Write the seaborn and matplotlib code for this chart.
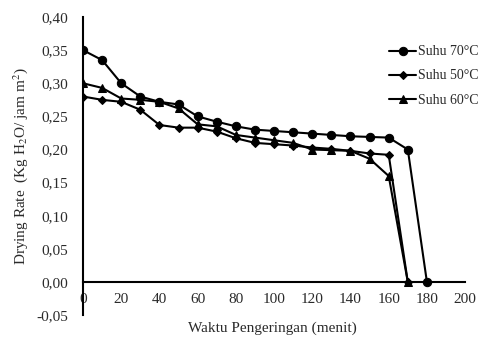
import matplotlib
matplotlib.use('Agg')
import matplotlib.pyplot as plt
import seaborn as sns
import pandas as pd
from matplotlib.ticker import FuncFormatter

# data
waktu = [0, 10, 20, 30, 40, 50, 60, 70, 80, 90, 100, 110, 120, 130, 140, 150, 160, 170, 180]
rate_70 = [0.350, 0.335, 0.300, 0.280, 0.272, 0.268, 0.250, 0.242, 0.235, 0.230, 0.228,
           0.226, 0.224, 0.222, 0.220, 0.219, 0.218, 0.200, 0.000]
waktu_b = waktu[:-1]
rate_50 = [0.280, 0.275, 0.272, 0.260, 0.237, 0.233, 0.233, 0.227, 0.217, 0.210, 0.208,
           0.206, 0.203, 0.201, 0.198, 0.194, 0.192, 0.000]
rate_60 = [0.300, 0.293, 0.277, 0.275, 0.272, 0.262, 0.238, 0.235, 0.222, 0.218, 0.214,
           0.210, 0.200, 0.199, 0.198, 0.186, 0.160, 0.000]
series = ['Suhu 70°C', 'Suhu 50°C', 'Suhu 60°C']

df = pd.concat([
    pd.DataFrame({'Waktu': waktu, 'Rate': rate_70, 'Suhu': series[0]}),
    pd.DataFrame({'Waktu': waktu_b, 'Rate': rate_50, 'Suhu': series[1]}),
    pd.DataFrame({'Waktu': waktu_b, 'Rate': rate_60, 'Suhu': series[2]}),
])

sns.set_style('white')
plt.rcParams['font.family'] = ['Liberation Serif', 'DejaVu Serif']
plt.rcParams['mathtext.fontset'] = 'stix'

fig = plt.figure(figsize=(4.8, 3.41), dpi=100)
ax = fig.add_axes([0.173, 0.076, 0.796, 0.874])

sns.lineplot(
    data=df, x='Waktu', y='Rate', hue='Suhu', style='Suhu',
    hue_order=series, style_order=series,
    palette=['black'] * 3, markers={series[0]: 'o', series[1]: 'D', series[2]: '^'},
    dashes=False, linewidth=1.5, markersize=6, markeredgecolor='black',
    ax=ax, legend=True,
)
for line in ax.lines:
    if line.get_marker() == 'D':
        line.set_markersize(4)

ax.set_xlim(0, 200)
ax.set_ylim(-0.05, 0.40)
ax.set_xticks(range(0, 201, 20))
ax.set_yticks([i * 0.05 for i in range(-1, 9)])
ax.yaxis.set_major_formatter(FuncFormatter(lambda v, p: f'{v:.2f}'.replace('.', ',')))
ax.tick_params(axis='both', length=0, labelsize=11, colors='#2a2a2a')
ax.tick_params(axis='x', pad=8)
ax.tick_params(axis='y', pad=11)

for s in ['top', 'right']:
    ax.spines[s].set_visible(False)
ax.spines['bottom'].set_position(('data', 0))
for s in ['bottom', 'left']:
    ax.spines[s].set_linewidth(1.5)
    ax.spines[s].set_color('black')

ax.set_xlabel('Waktu Pengeringan (menit)', fontsize=11, color='#2a2a2a')
ax.set_ylabel(r'Drying Rate  (Kg H$_2$O/ jam m$^2$)', fontsize=11, color='#2a2a2a')
ax.xaxis.set_label_coords(0.495, -0.02)
ax.yaxis.set_label_coords(-0.14, 0.5)

leg = ax.legend(loc='upper left', bbox_to_anchor=(0.80, 0.905), frameon=False,
                fontsize=10, handlelength=2.0, handletextpad=0.1, labelspacing=0.8,
                borderaxespad=0, borderpad=0)
for t in leg.get_texts():
    t.set_color('#2a2a2a')

plt.savefig('out.png', dpi=100)
